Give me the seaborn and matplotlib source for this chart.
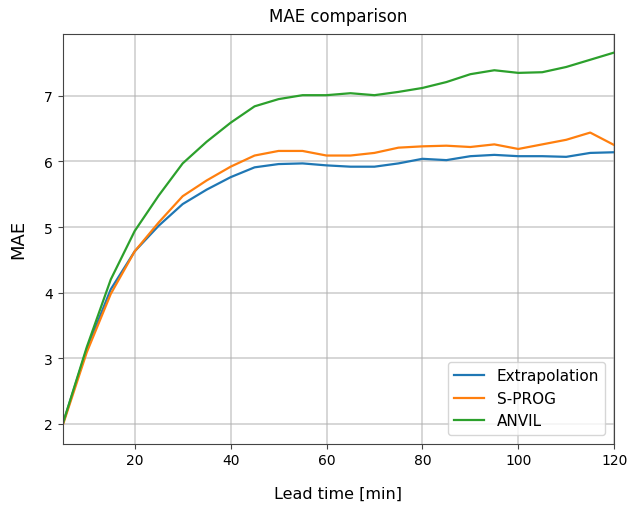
import matplotlib
matplotlib.use("Agg")
import matplotlib.pyplot as plt
import seaborn as sns
import pandas as pd

lead_time = [5, 10, 15, 20, 25, 30, 35, 40, 45, 50, 55, 60,
             65, 70, 75, 80, 85, 90, 95, 100, 105, 110, 115, 120]

extrapolation = [2.00, 3.14, 4.05, 4.63, 5.02, 5.35, 5.57, 5.76, 5.91, 5.96, 5.97, 5.94,
                 5.92, 5.92, 5.97, 6.04, 6.02, 6.08, 6.10, 6.08, 6.08, 6.07, 6.13, 6.14]
s_prog = [1.98, 3.09, 3.98, 4.63, 5.07, 5.47, 5.71, 5.92, 6.09, 6.16, 6.16, 6.09,
          6.09, 6.13, 6.21, 6.23, 6.24, 6.22, 6.26, 6.19, 6.26, 6.33, 6.44, 6.25]
anvil = [2.00, 3.17, 4.20, 4.94, 5.48, 5.97, 6.30, 6.59, 6.84, 6.95, 7.01, 7.01,
         7.04, 7.01, 7.06, 7.12, 7.21, 7.33, 7.39, 7.35, 7.36, 7.44, 7.55, 7.66]

methods = ["Extrapolation", "S-PROG", "ANVIL"]

df = pd.DataFrame({
    "lead": lead_time * 3,
    "mae": extrapolation + s_prog + anvil,
    "method": [m for m in methods for _ in lead_time],
})

fig = plt.figure(figsize=(6.28, 5.06), dpi=100)
ax = fig.add_axes([0.100, 0.121, 0.878, 0.810])

sns.lineplot(data=df, x="lead", y="mae", hue="method", hue_order=methods,
             palette=["#1f77b4", "#ff7f0e", "#2ca02c"], linewidth=1.6, ax=ax)

ax.set_xlim(5, 120)
ax.set_xticks([20, 40, 60, 80, 100, 120])
ax.grid(True, color="#b0b0b0", alpha=0.6, linewidth=1.2)
ax.set_axisbelow(True)
for s in ax.spines.values():
    s.set_color("#444444")

ax.set_title("MAE comparison", fontsize=12, pad=9)
ax.set_xlabel("Lead time [min]", fontsize=11.5, labelpad=13)
ax.set_ylabel("MAE", fontsize=13, labelpad=12)
ax.tick_params(labelsize=10, color="#444444")

leg = ax.legend(loc="lower right", fontsize=11, borderaxespad=0.6)
leg.get_frame().set_edgecolor("#cccccc")

fig.savefig("out.png", dpi=100)
